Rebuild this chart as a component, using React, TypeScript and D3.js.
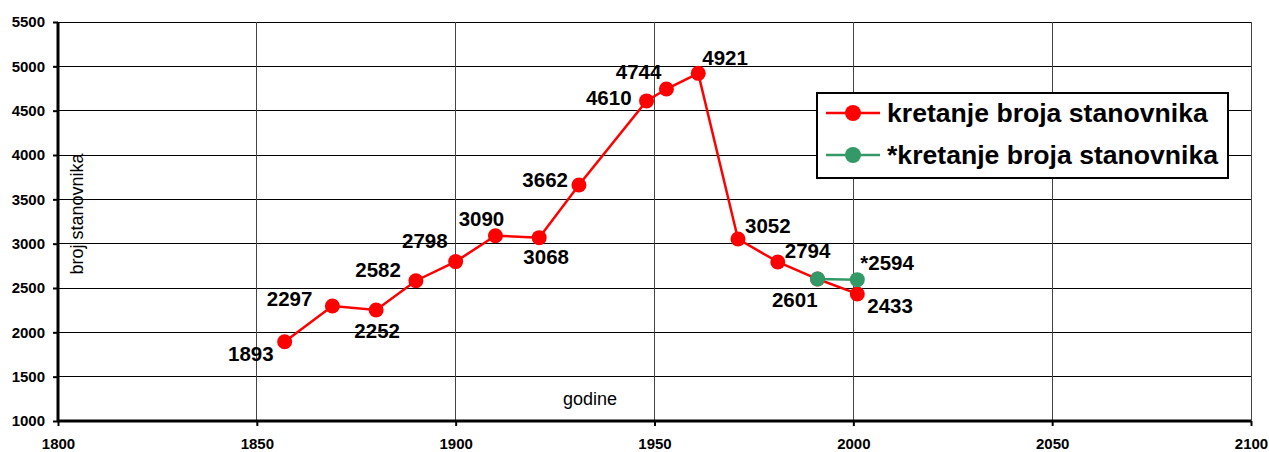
import React, { useEffect, useRef } from 'react';
import * as d3 from 'd3';

// godine popisa i broj stanovnika
const years = [1857, 1869, 1880, 1890, 1900, 1910, 1921, 1931, 1948, 1953, 1961, 1971, 1981, 1991, 2001];
const population = [1893, 2297, 2252, 2582, 2798, 3090, 3068, 3662, 4610, 4744, 4921, 3052, 2794, 2601, 2433];
const popLabels = ['1893', '2297', '2252', '2582', '2798', '3090', '3068', '3662', '4610', '4744', '4921', '3052', '2794', '2601', '2433'];

// procjena (*)
const altYears = [1991, 2001];
const altPopulation = [2601, 2594];
const altLabels = ['', '*2594'];

const xTicks = [1800, 1850, 1900, 1950, 2000, 2050, 2100];
const yTicks = [1000, 1500, 2000, 2500, 3000, 3500, 4000, 4500, 5000, 5500];

const seriesNames = ['kretanje broja stanovnika', '*kretanje broja stanovnika'];

// pomaci oznaka [dx, dy, anchor]
const labelOffsets: [number, number, string][] = [
  [-11, 19, 'end'], [-20, 0, 'end'], [1, 28, 'middle'], [-15, -4, 'end'], [-8, -14, 'end'],
  [-14, -10, 'middle'], [7, 26, 'middle'], [-11, 2, 'end'], [-15, 4, 'end'], [-5, -10, 'end'],
  [4, -8, 'start'], [7, -6, 'start'], [7, -4, 'start'], [0, 28, 'end'], [10, 19, 'start'],
];
const altOffsets: [number, number, string][] = [[0, 0, 'start'], [3, -10, 'start']];

const RED = '#ff0000';
const GREEN = '#339966';

const App = () => {
  const svgRef = useRef(null);

  useEffect(() => {
    const svg = d3.select(svgRef.current);
    svg.selectAll('*').remove();

    const left = 58, right = 1251, top = 22, bottom = 421;
    const font = 'Arial, "Liberation Sans", sans-serif';

    const x = d3.scaleLinear().domain([1800, 2100]).range([left, right]);
    const y = d3.scaleLinear().domain([1000, 5500]).range([bottom, top]);

    // mreza
    const grid = svg.append('g').attr('shape-rendering', 'crispEdges');
    yTicks.forEach(t => {
      grid.append('line').attr('x1', left).attr('x2', right).attr('y1', y(t)).attr('y2', y(t))
        .attr('stroke', '#000').attr('stroke-width', 1);
    });
    xTicks.forEach(t => {
      grid.append('line').attr('x1', x(t)).attr('x2', x(t)).attr('y1', top).attr('y2', bottom)
        .attr('stroke', '#444').attr('stroke-width', 1);
    });

    // osi
    const yAxis = svg.append('g').attr('transform', `translate(${left},0)`)
      .call(d3.axisLeft(y).tickValues(yTicks).tickSize(5).tickFormat(d => `${d}`));
    yAxis.select('.domain').attr('stroke-width', 3).attr('d', `M0,${top}V${bottom}`);
    yAxis.selectAll('.tick line').attr('stroke-width', 2);
    yAxis.selectAll('text').attr('font-family', font).attr('font-size', 15).attr('font-weight', 'bold')
      .attr('fill', '#000').attr('x', -13);

    const xAxis = svg.append('g').attr('transform', `translate(0,${bottom})`)
      .call(d3.axisBottom(x).tickValues(xTicks).tickSize(5).tickFormat(d => `${d}`));
    xAxis.select('.domain').attr('stroke-width', 3).attr('d', `M${left},0H${right}`);
    xAxis.selectAll('.tick line').attr('stroke-width', 2);
    xAxis.selectAll('text').attr('font-family', font).attr('font-size', 15).attr('font-weight', 'bold')
      .attr('fill', '#000').attr('y', 17);

    // naslovi osi
    svg.append('text').attr('transform', `translate(83,214) rotate(-90)`).attr('text-anchor', 'middle')
      .attr('font-family', font).attr('font-size', 18).text('broj stanovnika');
    svg.append('text').attr('x', 590).attr('y', 405).attr('text-anchor', 'middle')
      .attr('font-family', font).attr('font-size', 18).text('godine');

    const line = d3.line<[number, number]>().x(d => x(d[0])).y(d => y(d[1]));

    const drawSeries = (xs: number[], vs: number[], labels: string[], offs: [number, number, string][], color: string) => {
      const pts = xs.map((yr, i) => [yr, vs[i]] as [number, number]);
      svg.append('path').datum(pts).attr('d', line).attr('fill', 'none')
        .attr('stroke', color).attr('stroke-width', 2.5);
      svg.append('g').selectAll('circle').data(pts).join('circle')
        .attr('cx', d => x(d[0])).attr('cy', d => y(d[1])).attr('r', 7.5).attr('fill', color);
      svg.append('g').selectAll('text').data(pts).join('text')
        .attr('x', (d, i) => x(d[0]) + offs[i][0]).attr('y', (d, i) => y(d[1]) + offs[i][1])
        .attr('text-anchor', (d, i) => offs[i][2])
        .attr('font-family', font).attr('font-size', 20.5).attr('font-weight', 'bold').attr('fill', '#000')
        .text((d, i) => labels[i]);
    };

    drawSeries(years, population, popLabels, labelOffsets, RED);
    drawSeries(altYears, altPopulation, altLabels, altOffsets, GREEN);

    // legenda
    const lg = svg.append('g');
    lg.append('rect').attr('x', 817).attr('y', 93).attr('width', 411).attr('height', 85)
      .attr('fill', '#fff').attr('stroke', '#000').attr('stroke-width', 2);
    [RED, GREEN].forEach((c, i) => {
      const ly = 113 + i * 42;
      lg.append('line').attr('x1', 826).attr('x2', 880).attr('y1', ly).attr('y2', ly)
        .attr('stroke', c).attr('stroke-width', 2.5);
      lg.append('circle').attr('cx', 853).attr('cy', ly).attr('r', 8).attr('fill', c);
      lg.append('text').attr('x', 887).attr('y', ly + 9).attr('font-family', font)
        .attr('font-size', 26.6).attr('font-weight', 'bold').attr('fill', '#000').text(seriesNames[i]);
    });
  }, []);

  return (
    <svg ref={svgRef} width={1269} height={452} style={{ position: 'absolute', left: 0, top: 0, background: '#fff' }} />
  );
};

export default App;
